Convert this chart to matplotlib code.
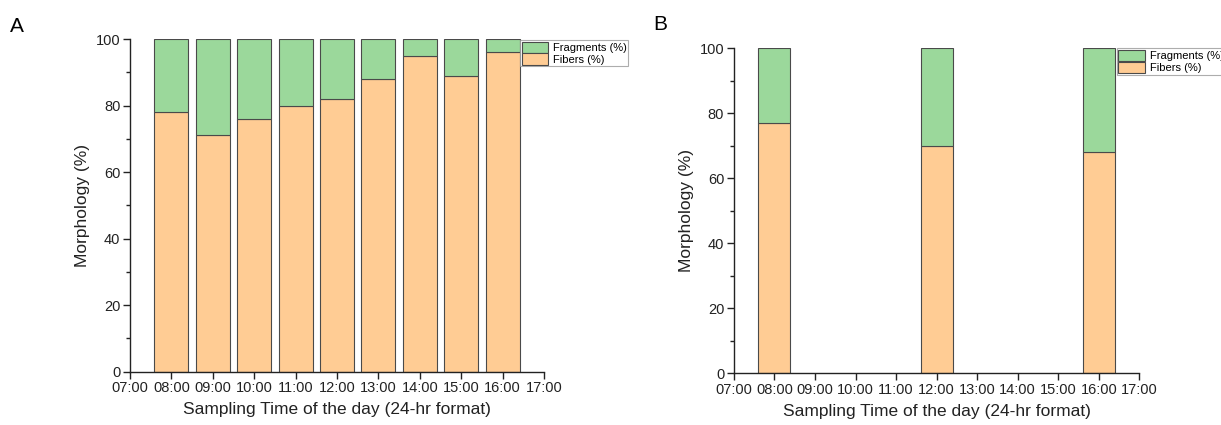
import matplotlib
matplotlib.use("Agg")
import matplotlib.pyplot as plt
from matplotlib.ticker import MultipleLocator

plt.rcParams['font.family'] = ['Liberation Sans', 'DejaVu Sans']

hour_labels = ['07:00', '08:00', '09:00', '10:00', '11:00', '12:00',
               '13:00', '14:00', '15:00', '16:00', '17:00']

# panel A: hourly sampling
hours_a = [8, 9, 10, 11, 12, 13, 14, 15, 16]
fibers_a = [78, 71, 76, 80, 82, 88, 95, 89, 96]
fragments_a = [22, 29, 24, 20, 18, 12, 5, 11, 4]

# panel B: three samplings
hours_b = [8, 12, 16]
fibers_b = [77, 70, 68]
fragments_b = [23, 30, 32]

orange = '#FFCC94'
green = '#9BD89B'
edge = '#4a4a4a'

fig = plt.figure(figsize=(12.21, 4.25), dpi=100)
ax_a = fig.add_axes([0.1065, 0.1254, 0.339, 0.7828])
ax_b = fig.add_axes([0.6011, 0.1216, 0.332, 0.7648])


def draw_panel(ax, hours, fibers, fragments, width, leg_pos):
    b1 = ax.bar(hours, fibers, width=width, color=orange, edgecolor=edge,
                linewidth=0.8, label='Fibers (%)')
    b2 = ax.bar(hours, fragments, width=width, bottom=fibers, color=green,
                edgecolor=edge, linewidth=0.8, label='Fragments (%)')
    ax.set_xlim(7, 17)
    ax.set_ylim(0, 100)
    ax.set_xticks(range(7, 18))
    ax.set_xticklabels(hour_labels)
    ax.yaxis.set_major_locator(MultipleLocator(20))
    ax.yaxis.set_minor_locator(MultipleLocator(10))
    for s in ['top', 'right']:
        ax.spines[s].set_visible(False)
    for s in ['left', 'bottom']:
        ax.spines[s].set_linewidth(1.0)
        ax.spines[s].set_color('#222222')
    ax.tick_params(axis='both', which='major', labelsize=10.5, length=5,
                   width=1.0, direction='out', pad=2, color='#222222',
                   labelcolor='#222222')
    ax.tick_params(axis='y', which='minor', length=3, width=1.0,
                   color='#222222')
    ax.set_xlabel('Sampling Time of the day (24-hr format)', fontsize=12.5,
                  labelpad=5, color='#222222')
    ax.set_ylabel('Morphology (%)', fontsize=12.5, labelpad=4,
                  color='#222222')
    leg = fig.legend([b2, b1], ['Fragments (%)', 'Fibers (%)'],
                     loc='upper left', bbox_to_anchor=leg_pos,
                     fontsize=8, frameon=True, fancybox=False,
                     handlelength=2.4, handleheight=1.15, handletextpad=0.4,
                     borderpad=0.15, labelspacing=0.05, borderaxespad=0)
    leg.get_frame().set_edgecolor('#999999')
    leg.get_frame().set_linewidth(0.8)


draw_panel(ax_a, hours_a, fibers_a, fragments_a, 0.82, (0.4259, 0.9059))
draw_panel(ax_b, hours_b, fibers_b, fragments_b, 0.79, (0.9146, 0.8864))

fig.text(0.008, 0.925, 'A', fontsize=15)
fig.text(0.535, 0.93, 'B', fontsize=15)

fig.savefig('out.png', dpi=100)
